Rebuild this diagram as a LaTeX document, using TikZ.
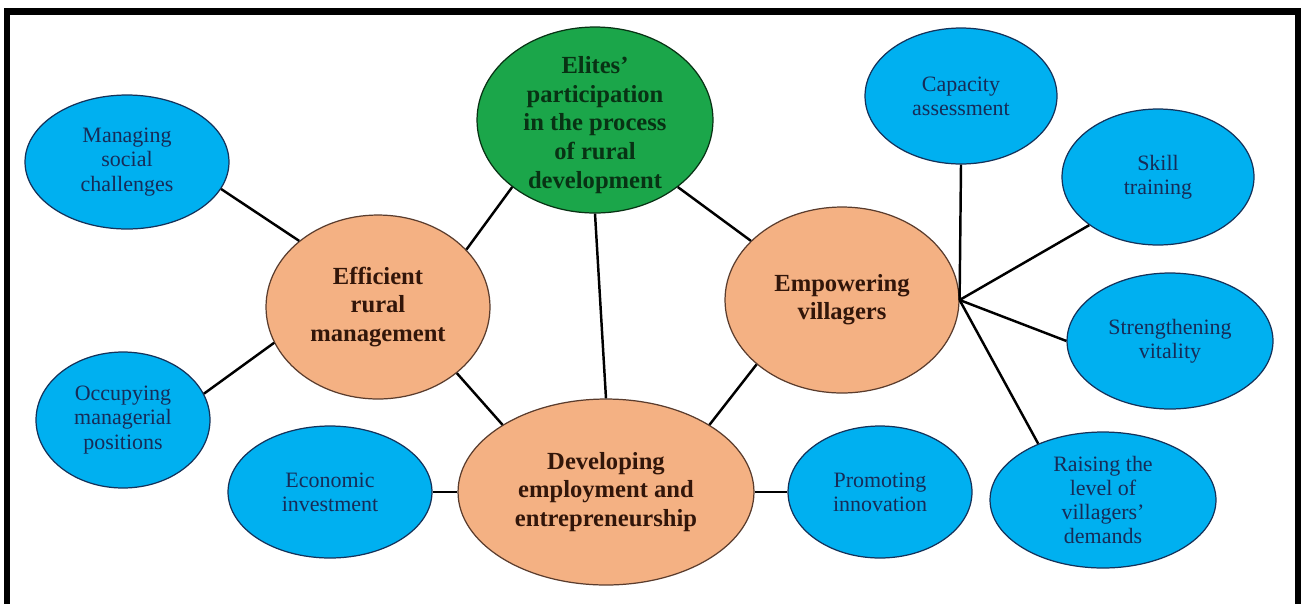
\documentclass[tikz,border=0pt]{standalone}
\usepackage{fontspec}
\setmainfont{Liberation Serif}
\usetikzlibrary{shapes.geometric}
\definecolor{cblue}{RGB}{0,176,240}
\definecolor{corange}{RGB}{244,177,131}
\definecolor{cgreen}{RGB}{27,166,74}
\definecolor{tblue}{RGB}{22,44,88}
\definecolor{tbrown}{RGB}{50,22,10}
\definecolor{tgreen}{RGB}{8,50,20}
\definecolor{oblue}{RGB}{20,50,90}
\definecolor{obrown}{RGB}{90,60,45}
\begin{document}
\begin{tikzpicture}[x=0.02cm,y=-0.02cm,
  leaftext/.style={text=tblue, align=center, inner sep=0pt, font=\fontsize{12.5}{13.8}\selectfont},
  midtext/.style={text=tbrown, align=center, inner sep=0pt, font=\fontsize{14}{16}\selectfont\bfseries},
  coretext/.style={text=tgreen, align=center, inner sep=0pt, font=\fontsize{14}{16.4}\selectfont\bfseries},
  leaf/.style={ellipse, draw=oblue, line width=0.7pt, fill=cblue, inner sep=0pt, label={[leaftext]center:#1}},
  mid/.style={ellipse, draw=obrown, line width=0.7pt, fill=corange, inner sep=0pt, label={[midtext]center:#1}},
  core/.style={ellipse, draw=tgreen, line width=0.7pt, fill=cgreen, inner sep=0pt, label={[coretext, yshift=-0.1cm]center:#1}},
  link/.style={line width=1.4pt, black}]
\useasboundingbox (0,0) rectangle (1301,603);
\clip (0,0) rectangle (1301,603);
\fill[white] (0,0) rectangle (1301,603);

% central nodes
\node[core={Elites’\\participation\\in the process\\of rural\\development}, minimum width=4.72cm, minimum height=3.72cm] (eli) at (595,120) {};
\node[mid={Efficient\\rural\\management}, minimum width=4.48cm, minimum height=3.68cm] (eff) at (378,307) {};
\node[mid={Empowering\\villagers}, minimum width=4.68cm, minimum height=3.72cm] (emp) at (842,300) {};
\node[mid={Developing\\employment and\\entrepreneurship}, minimum width=5.92cm, minimum height=3.72cm] (dev) at (606,492) {};

% leaves
\node[leaf={Managing\\social\\challenges}, minimum width=4.08cm, minimum height=2.68cm] (man) at (127,162) {};
\node[leaf={Occupying\\managerial\\positions}, minimum width=3.48cm, minimum height=2.72cm] (occ) at (123,420) {};
\node[leaf={Economic\\investment}, minimum width=4.08cm, minimum height=2.64cm] (eco) at (330,492) {};
\node[leaf={Promoting\\innovation}, minimum width=3.68cm, minimum height=2.64cm] (pro) at (880,492) {};
\node[leaf={Capacity\\assessment}, minimum width=3.84cm, minimum height=2.72cm] (cap) at (961,96) {};
\node[leaf={Skill\\training}, minimum width=3.84cm, minimum height=2.72cm] (ski) at (1158,177) {};
\node[leaf={Strengthening\\vitality}, minimum width=4.12cm, minimum height=2.72cm] (str) at (1170,341) {};
\node[leaf={Raising the\\level of\\villagers’\\demands}, minimum width=4.52cm, minimum height=2.72cm] (rai) at (1103,500) {};

\coordinate (hub) at (emp.east);

% connectors
\draw[link] (man.-16) -- (eff.140);
\draw[link] (occ.18) -- (eff.199);
\draw[link] (eff.33) -- (eli.219);
\draw[link] (eli.-39) -- (emp.147);
\draw[link] (eli.south) -- (dev.north);
\draw[link] (eff.-40) -- (dev.147);
\draw[link] (emp.217) -- (dev.33);
\draw[link] (eco.east) -- (dev.west);
\draw[link] (dev.east) -- (pro.west);
\draw[link] (cap.south) -- (hub);
\draw[link] (ski.215) -- (hub);
\draw[link] (str.west) -- (hub);
\draw[link] (rai.139) -- (hub);

% frame
\draw[line width=3.6pt, line join=miter] (7,640) -- (7,11.5) -- (1298,11.5) -- (1298,640);
\end{tikzpicture}
\end{document}
